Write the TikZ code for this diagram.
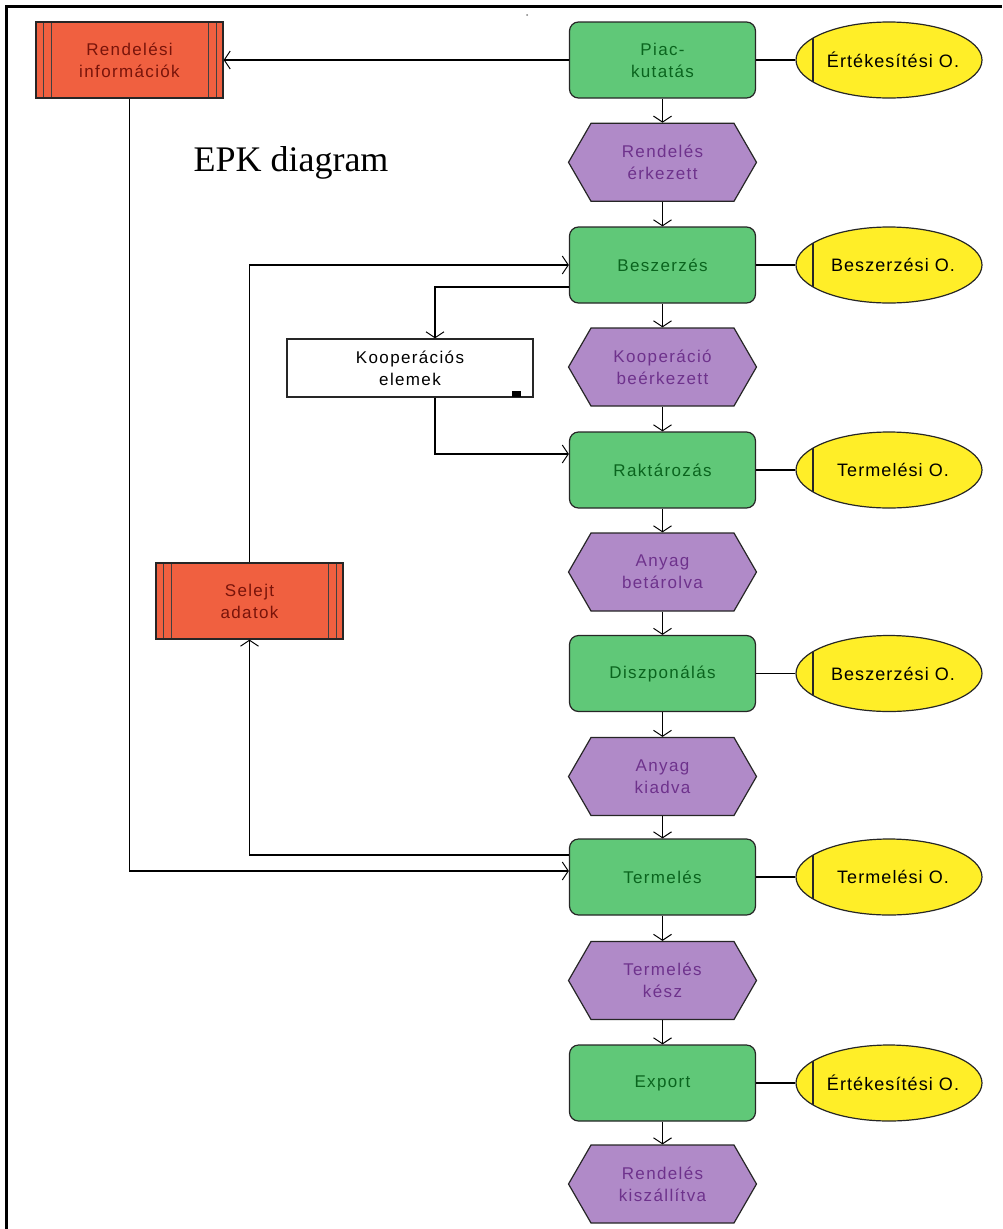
\documentclass[tikz,border=0pt]{standalone}
\usepackage{fontspec}
\setmainfont{Liberation Sans}
\newfontfamily\lblfont[LetterSpace=8]{Liberation Sans}
\newfontfamily\orgfont[LetterSpace=6]{Liberation Sans}
\newfontfamily\titlefont{Liberation Serif}
\usetikzlibrary{shapes.symbols,shapes.geometric,arrows.meta}

\definecolor{funcfill}{RGB}{96,200,120}
\definecolor{functext}{RGB}{10,100,30}
\definecolor{evfill}{RGB}{176,138,200}
\definecolor{evtext}{RGB}{110,50,140}
\definecolor{datafill}{RGB}{240,96,64}
\definecolor{datatext}{RGB}{120,20,10}
\definecolor{orgfill}{RGB}{255,238,40}

% organisational unit label, kept out of the ellipse's size computation
\newcommand{\orglabel}[1]{\makebox[0pt]{\hspace{8pt}#1}}

\begin{document}
\begin{tikzpicture}[x=1pt,y=-1pt,
  lbl/.style={font=\lblfont\fontsize{17}{22}\selectfont, align=center},
  func/.style={lbl, rectangle, rounded corners=9pt, draw=black!85, line width=1.2pt,
    fill=funcfill, text=functext, minimum width=186pt, minimum height=76pt, inner sep=0pt},
  event/.style={lbl, signal, signal to=east and west, signal pointer angle=120,
    draw=black!85, line width=1.2pt, fill=evfill, text=evtext,
    minimum width=188pt, minimum height=78pt, inner sep=0pt},
  org/.style={font=\orgfont\fontsize{18}{22}\selectfont, ellipse, draw=black!85,
    line width=1.2pt, fill=orgfill, text=black,
    minimum width=186pt, minimum height=76pt, inner sep=0pt,
    path picture={\draw[line width=1.2pt]
      ([xshift=17pt]path picture bounding box.north west) --
      ([xshift=17pt]path picture bounding box.south west);}},
  datastore/.style={lbl, rectangle, draw=black!85, line width=1.2pt, fill=datafill,
    text=datatext, minimum width=187pt, minimum height=76pt, inner sep=0pt,
    path picture={
      \foreach \dx in {7,15}{
        \draw[line width=1pt, black!75]
          ([xshift=\dx pt]path picture bounding box.north west) --
          ([xshift=\dx pt]path picture bounding box.south west);
        \draw[line width=1pt, black!75]
          ([xshift=-\dx pt]path picture bounding box.north east) --
          ([xshift=-\dx pt]path picture bounding box.south east);}}},
  infobox/.style={lbl, rectangle, draw=black!85, line width=1.2pt, fill=white,
    text=black, minimum width=246pt, minimum height=58pt, inner sep=0pt},
  flow/.style={line width=1.2pt, -{Straight Barb[length=6pt,width=18pt,line width=1pt]}},
  link/.style={line width=1.2pt}
]
\useasboundingbox (0,0) rectangle (1002,1229);

% frame
\draw[line width=3pt] (6,1229) -- (6,6.5) -- (1002,6.5);
\fill[gray] (527,15) circle (1pt);

% title
\node[font=\titlefont\fontsize{36}{40}\selectfont] (title) at (291,163) {EPK diagram};

% process chain
\node[func]  (f0)  at (662.5,60)    {Piac-\\kutatás};
\node[event] (e1)  at (662.5,162.3) {Rendelés\\érkezett};
\node[func]  (f2)  at (662.5,265)   {Beszerzés};
\node[event] (e3)  at (662.5,367)   {Kooperáció\\beérkezett};
\node[func]  (f4)  at (662.5,470)   {Raktározás};
\node[event] (e5)  at (662.5,572)   {Anyag\\betárolva};
\node[func]  (f6)  at (662.5,673.5) {Diszponálás};
\node[event] (e7)  at (662.5,776.5) {Anyag\\kiadva};
\node[func]  (f8)  at (662.5,877)   {Termelés};
\node[event] (e9)  at (662.5,980.5) {Termelés\\kész};
\node[func]  (f10) at (662.5,1083)  {Export};
\node[event] (e11) at (662.5,1184)  {Rendelés\\kiszállítva};

% organisational units
\node[org] (o0)  at (889,60)    {\orglabel{Értékesítési O.}};
\node[org] (o2)  at (889,265)   {\orglabel{Beszerzési O.}};
\node[org] (o4)  at (889,470)   {\orglabel{Termelési O.}};
\node[org] (o6)  at (889,673.5) {\orglabel{Beszerzési O.}};
\node[org] (o8)  at (889,877)   {\orglabel{Termelési O.}};
\node[org] (o10) at (889,1083)  {\orglabel{Értékesítési O.}};

% data
\node[datastore] (d1) at (129.5,60)  {Rendelési\\információk};
\node[datastore] (d2) at (249.5,601) {Selejt\\adatok};
\node[infobox]   (k)  at (410,368)   {Kooperációs\\elemek};
\fill (512,390.5) rectangle (521,396.5);

% control flow
\foreach \a/\b in {f0/e1,e1/f2,f2/e3,e3/f4,f4/e5,e5/f6,f6/e7,e7/f8,f8/e9,e9/f10,f10/e11}
  \draw[flow] (\a.south) -- (\b.north);

% organisation links
\foreach \f/\o in {f0/o0,f2/o2,f4/o4,f6/o6,f8/o8,f10/o10}
  \draw[link] (\f.east) -- (\o.west);

% information flow
\draw[flow] (f0.west) -- (d1.east);
\draw[flow] (d1.south) |- ([yshift=6pt]f8.west);
\draw[flow] ([yshift=22pt]f8.west) -| (d2.south);
\draw[flow] (d2.north) |- (f2.west);
\draw[flow] ([yshift=-22pt]f2.west) -| ([xshift=25pt]k.north);
\draw[flow] ([xshift=25pt]k.south) |- ([yshift=16pt]f4.west);
\end{tikzpicture}
\end{document}
